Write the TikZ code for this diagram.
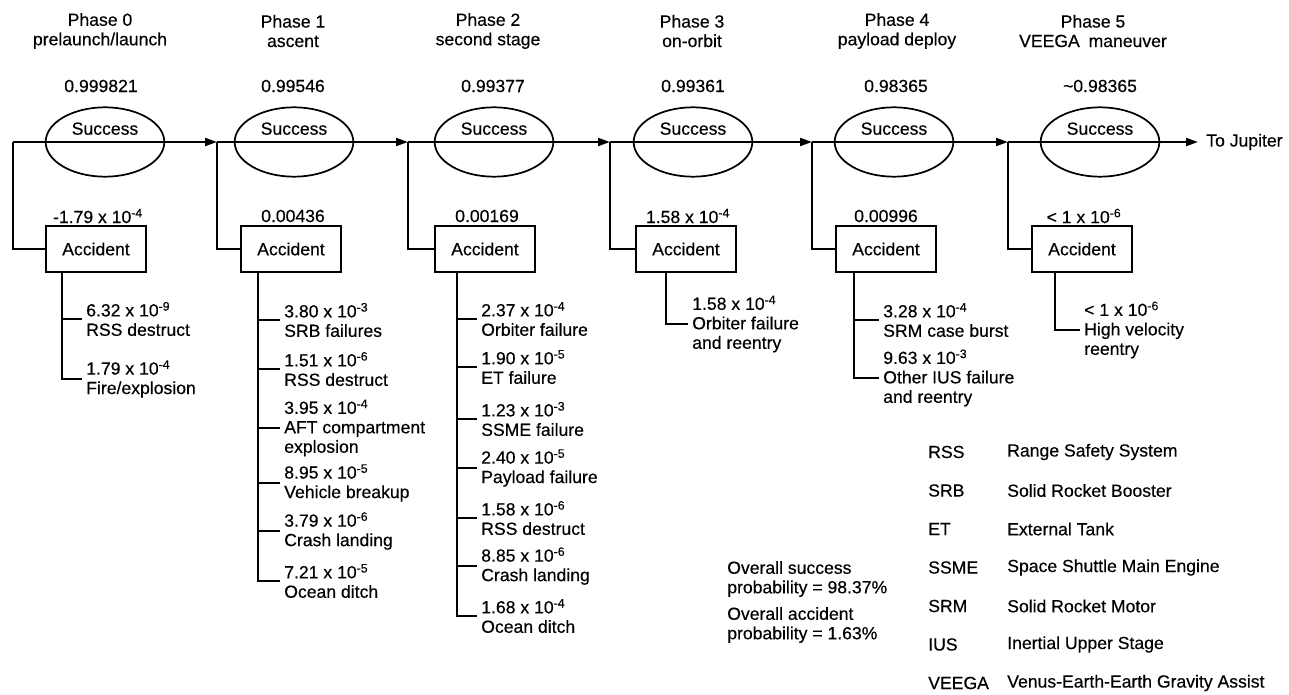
\documentclass[tikz,border=0pt]{standalone}
\usepackage{fontspec}
\setmainfont{Liberation Sans}[BoldFont=Liberation Sans, BoldFeatures={FakeBold=0.35}]
\usetikzlibrary{arrows.meta,shapes.geometric}

% powers of ten written as in the event tree
\newcommand\tenpow[1]{10\textsuperscript{#1}}

\tikzset{
  txt/.style={inner sep=0pt, font=\fontsize{13.2}{14.6}\selectfont\bfseries},
  succ/.style={ellipse, draw, line width=1.3pt, minimum width=89pt,
    minimum height=52pt, inner sep=0pt},
  acc/.style={rectangle, draw, line width=1.7pt, minimum width=75pt,
    minimum height=34pt, inner sep=0pt, font=\fontsize{13.2}{14.6}\selectfont\bfseries},
  wire/.style={line width=1.5pt},
  flow/.style={wire, -{Triangle[length=9pt,width=6pt]}},
  item/.style={txt, anchor=west, align=left, inner xsep=3pt},
  abbr/.style={txt, anchor=west},
}

\begin{document}
\begin{tikzpicture}[x=0.75pt,y=-0.75pt]
\useasboundingbox (0,0) rectangle (1289,695);

% ---- phase headings
\node[txt, align=center] (p0) at (100,31) {Phase 0\\prelaunch/launch};
\node[txt, align=center] (p1) at (293,31) {Phase 1\\ascent};
\node[txt, align=center] (p2) at (488,31) {Phase 2\\second stage};
\node[txt, align=center] (p3) at (692,31) {Phase 3\\on-orbit};
\node[txt, align=center] (p4) at (897,31) {Phase 4\\payload deploy};
\node[txt, align=center] (p5) at (1093,31) {Phase 5\\VEEGA\enspace maneuver};

% ---- success probabilities
\node[txt] (q0) at (101,86) {0.999821};
\node[txt] (q1) at (293,86) {0.99546};
\node[txt] (q2) at (493,86) {0.99377};
\node[txt] (q3) at (693,86) {0.99361};
\node[txt] (q4) at (896,86) {0.98365};
\node[txt] (q5) at (1100,86) {\textasciitilde0.98365};

% ---- success ellipses
\node[succ] (s0) at (105,142) {};
\node[succ] (s1) at (294,142) {};
\node[succ] (s2) at (494,142) {};
\node[succ] (s3) at (693,142) {};
\node[succ] (s4) at (894,142) {};
\node[succ] (s5) at (1100,142) {};
\foreach \i in {0,...,5}
  \node[txt] (st\i) at ([yshift=10pt]s\i.center) {Success};

% ---- junctions on the main line
\coordinate (j0) at (13,142);
\coordinate (j1) at (217,142);
\coordinate (j2) at (408,142);
\coordinate (j3) at (610,142);
\coordinate (j4) at (812,142);
\coordinate (j5) at (1008,142);
\node[txt, anchor=west, inner xsep=0pt] (tj) at (1206,142) {To Jupiter};

% ---- accident probabilities and boxes
\node[txt] (r0) at (98,216) {-1.79 x \tenpow{-4}};
\node[txt] (r1) at (293,216) {0.00436};
\node[txt] (r2) at (487,216) {0.00169};
\node[txt] (r3) at (688,216) {1.58 x \tenpow{-4}};
\node[txt] (r4) at (886,216) {0.00996};
\node[txt] (r5) at (1084,216) {< 1 x \tenpow{-6}};

\node[acc] (a0) at (96,249) {Accident};
\node[acc] (a1) at (291,249) {Accident};
\node[acc] (a2) at (485,249) {Accident};
\node[acc] (a3) at (686,249) {Accident};
\node[acc] (a4) at (886,249) {Accident};
\node[acc] (a5) at (1082,249) {Accident};

% ---- main line with branches to the accident boxes
\draw[flow] (j0) -- (j1);
\draw[flow] (j1) -- (j2);
\draw[flow] (j2) -- (j3);
\draw[flow] (j3) -- (j4);
\draw[flow] (j4) -- (j5);
\draw[flow, shorten >=6pt] (j5) -- (tj.west);
\foreach \i in {0,...,5}
  \draw[wire] (j\i) |- (a\i.west);

% ---- tops of the accident branches
\coordinate (b0) at (62,272);
\coordinate (b1) at (258,272);
\coordinate (b2) at (457,272);
\coordinate (b3) at (666,272);
\coordinate (b4) at (854,272);
\coordinate (b5) at (1055,272);

% ---- phase 0 accident causes
\node[item] (i01) at (82,319) {6.32 x \tenpow{-9}\\RSS destruct};
\node[item] (i02) at (82,379) {1.79 x \tenpow{-4}\\Fire/explosion};

% ---- phase 1 accident causes
\node[item] (i11) at (280,320) {3.80 x \tenpow{-3}\\SRB failures};
\node[item] (i12) at (280,369) {1.51 x \tenpow{-6}\\RSS destruct};
\node[item] (i13) at (280,428) {3.95 x \tenpow{-4}\\AFT compartment\\explosion};
\node[item] (i14) at (280,483) {8.95 x \tenpow{-5}\\Vehicle breakup};
\node[item] (i15) at (280,531) {3.79 x \tenpow{-6}\\Crash landing};
\node[item] (i16) at (280,581) {7.21 x \tenpow{-5}\\Ocean ditch};

% ---- phase 2 accident causes
\node[item] (i21) at (477,319) {2.37 x \tenpow{-4}\\Orbiter failure};
\node[item] (i22) at (477,367) {1.90 x \tenpow{-5}\\ET failure};
\node[item] (i23) at (477,419) {1.23 x \tenpow{-3}\\SSME failure};
\node[item] (i24) at (477,468) {2.40 x \tenpow{-5}\\Payload failure};
\node[item] (i25) at (477,518) {1.58 x \tenpow{-6}\\RSS destruct};
\node[item] (i26) at (477,566) {8.85 x \tenpow{-6}\\Crash landing};
\node[item] (i27) at (477,616) {1.68 x \tenpow{-4}\\Ocean ditch};

% ---- phases 3 to 5 accident causes
\node[item] (i31) at (688,324) {1.58 x \tenpow{-4}\\Orbiter failure\\and reentry};
\node[item] (i41) at (879,320) {3.28 x \tenpow{-4}\\SRM case burst};
\node[item] (i42) at (879,378) {9.63 x \tenpow{-3}\\Other IUS failure\\and reentry};
\node[item] (i51) at (1080,330) {< 1 x \tenpow{-6}\\High velocity\\reentry};

% ---- branch lines
\foreach \n in {i01,i02} \draw[wire] (b0) |- (\n.west);
\foreach \n in {i11,i12,i13,i14,i15,i16} \draw[wire] (b1) |- (\n.west);
\foreach \n in {i21,i22,i23,i24,i25,i26,i27} \draw[wire] (b2) |- (\n.west);
\draw[wire] (b3) |- (i31.west);
\foreach \n in {i41,i42} \draw[wire] (b4) |- (\n.west);
\draw[wire] (b5) |- (i51.west);

% ---- overall results
\node[txt, anchor=west, align=left] (ov1) at (727,579) {Overall success\\probability = 98.37\%};
\node[txt, anchor=west, align=left] (ov2) at (727,625) {Overall accident\\probability = 1.63\%};

% ---- abbreviations
\node[abbr] (k1) at (928,452) {RSS};
\node[abbr] (k2) at (928,490.5) {SRB};
\node[abbr] (k3) at (928,529) {ET};
\node[abbr] (k4) at (928,567.5) {SSME};
\node[abbr] (k5) at (928,606) {SRM};
\node[abbr] (k6) at (928,644.5) {IUS};
\node[abbr] (k7) at (928,683) {VEEGA};
\node[abbr] (d1) at (1007,452) {Range Safety System};
\node[abbr] (d2) at (1007,490.5) {Solid Rocket Booster};
\node[abbr] (d3) at (1007,529) {External Tank};
\node[abbr] (d4) at (1007,567.5) {Space Shuttle Main Engine};
\node[abbr] (d5) at (1007,606) {Solid Rocket Motor};
\node[abbr] (d6) at (1007,644.5) {Inertial Upper Stage};
\node[abbr] (d7) at (1007,683) {Venus-Earth-Earth Gravity Assist};
\end{tikzpicture}
\end{document}
